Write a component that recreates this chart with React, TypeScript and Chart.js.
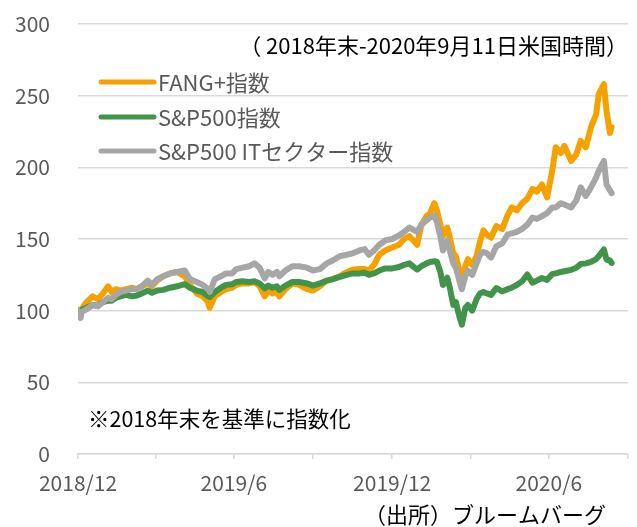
import React, { useEffect, useRef } from 'react';
import { Chart, registerables } from 'chart.js';

Chart.register(...registerables);

// ---- data (index level, 2018 year end = 100) ----
const dates = [
  '2018-12-31', '2019-01-03', '2019-01-04', '2019-01-10', '2019-01-17', '2019-01-23', '2019-01-29',
  '2019-02-04', '2019-02-08', '2019-02-13', '2019-02-18', '2019-02-25', '2019-03-04', '2019-03-09',
  '2019-03-15', '2019-03-22', '2019-03-27', '2019-04-02', '2019-04-09', '2019-04-17', '2019-04-25',
  '2019-05-04', '2019-05-10', '2019-05-18', '2019-05-25', '2019-05-31', '2019-06-02', '2019-06-08',
  '2019-06-15', '2019-06-21', '2019-06-28', '2019-07-03', '2019-07-10', '2019-07-18', '2019-07-24',
  '2019-07-30', '2019-08-05', '2019-08-09', '2019-08-14', '2019-08-19', '2019-08-22', '2019-08-29',
  '2019-09-06', '2019-09-14', '2019-09-23', '2019-09-30', '2019-10-08', '2019-10-16', '2019-10-23',
  '2019-10-31', '2019-11-08', '2019-11-15', '2019-11-23', '2019-11-29', '2019-12-04', '2019-12-10',
  '2019-12-16', '2019-12-23', '2019-12-31', '2020-01-08', '2020-01-14', '2020-01-20', '2020-01-26',
  '2020-01-29', '2020-02-03', '2020-02-09', '2020-02-13', '2020-02-18', '2020-02-21', '2020-02-25',
  '2020-02-28', '2020-03-04', '2020-03-07', '2020-03-11', '2020-03-14', '2020-03-18', '2020-03-21',
  '2020-03-25', '2020-03-28', '2020-04-02', '2020-04-07', '2020-04-11', '2020-04-15', '2020-04-19',
  '2020-04-24', '2020-04-30', '2020-05-07', '2020-05-13', '2020-05-18', '2020-05-24', '2020-05-30',
  '2020-06-05', '2020-06-11', '2020-06-16', '2020-06-22', '2020-06-28', '2020-07-04', '2020-07-08',
  '2020-07-14', '2020-07-18', '2020-07-26', '2020-08-01', '2020-08-06', '2020-08-12', '2020-08-18',
  '2020-08-24', '2020-08-27', '2020-09-02', '2020-09-05', '2020-09-09', '2020-09-11',
];

const fangPlus = [
  100, 96, 101, 106, 110, 108, 112,
  117, 113, 115, 114, 115, 116, 115,
  117, 119, 117, 121, 124, 126, 127,
  124, 118, 112, 110, 106, 102, 110,
  113, 115, 116, 118, 119, 119, 120,
  117, 110, 114, 112, 113, 110, 115,
  119, 118, 115, 114, 117, 121, 122,
  124, 127, 128.5, 129, 129, 128, 132,
  139, 142, 144, 146, 150, 152, 148,
  146, 160, 166, 168, 175, 170, 160,
  152, 158, 151, 140, 138, 128, 124,
  131, 136, 132, 138, 148, 156, 153,
  151, 159, 157, 166.5, 172, 170, 175,
  178, 185, 183, 188, 179, 197.5, 214,
  210, 215, 204.5, 209, 218.5, 214, 228,
  237, 251, 258, 239.5, 224, 228,
];

const sp500 = [
  100, 97.5, 100.5, 102, 104, 103.5, 106,
  107, 107, 109, 110, 111, 110, 110.5,
  112, 114, 112.5, 114, 114.5, 116, 117,
  118.5, 116, 114, 113, 110, 109.5, 113,
  116, 118, 118.5, 120, 120.5, 120, 120.5,
  119, 115.5, 117.5, 116, 117, 114.5, 117.5,
  120, 120, 119, 117.5, 119, 121, 122,
  123.5, 125, 126, 126, 126.5, 125, 126,
  128, 129.5, 129.5, 130.5, 132, 133, 130,
  128.7, 131, 133, 134, 134.5, 134, 127,
  118, 123, 116, 104, 106, 96, 90.2,
  102, 104, 100, 108, 112, 113, 112,
  111, 115.8, 113.5, 115, 116, 118, 120.5,
  125.2, 119.5, 121, 122.8, 121.5, 125.5, 126,
  127, 127.5, 128.5, 130, 132.5, 133, 134,
  136, 138, 142.7, 135.7, 135, 133.3,
];

const sp500IT = [
  100, 95, 99, 101, 104, 103, 106,
  109, 108, 111, 113, 114, 115, 115,
  117, 121, 118, 122, 124, 126, 127,
  128, 122, 120, 118, 115, 113, 122,
  124, 126, 126, 129, 130, 131, 133,
  130, 122.5, 127, 125, 127, 124, 128,
  131, 131, 130, 128, 129, 133, 135,
  138, 139, 140, 142, 143, 139, 142,
  146, 149, 150, 152.5, 155, 158, 156,
  155, 160, 163, 165, 166.5, 162, 152,
  142, 149, 142, 133, 130, 121, 115,
  124, 128, 125, 133, 139, 141, 140,
  137, 145, 147, 153, 154, 155, 157,
  160, 165, 164, 166, 168, 172, 172,
  175, 174, 172, 177, 186, 180, 186,
  193, 197.5, 204.5, 188, 184, 182,
];

const seriesNames = ['FANG+指数', 'S&P500指数', 'S&P500 ITセクター指数'];
const seriesColors = ['#F5A100', '#41944A', '#A6A6A6'];

const tickDates = ['2018-12-31', '2019-03-31', '2019-06-30', '2019-09-30', '2019-12-31', '2020-03-31', '2020-06-30', '2020-09-30'];
const tickLabels = ['2018/12', '', '2019/6', '', '2019/12', '', '2020/6', ''];
const yTicks = [0, 50, 100, 150, 200, 250, 300];

const titleText = '（ 2018年末-2020年9月11日米国時間）';
const noteText = '※2018年末を基準に指数化';
const sourceText = '（出所）ブルームバーグ';

const FONT = '"Noto Sans CJK JP", "Noto Sans", sans-serif';
const BASE = Date.UTC(2018, 11, 31);
const toDay = (s: string) => {
  const [y, m, d] = s.split('-').map(Number);
  return (Date.UTC(y, m - 1, d) - BASE) / 86400000;
};

const overlayPlugin = {
  id: 'overlayTexts',
  afterDraw(chart: any) {
    const ctx = chart.ctx as CanvasRenderingContext2D;
    ctx.save();
    ctx.textBaseline = 'middle';
    // title (top right)
    ctx.font = `22px ${FONT}`;
    ctx.fillStyle = '#000000';
    ctx.textAlign = 'right';
    ctx.fillText(titleText, 628, 46);
    // legend inside plot
    const rows = [82, 117, 151];
    seriesNames.forEach((name, i) => {
      ctx.strokeStyle = seriesColors[i];
      ctx.lineWidth = 5;
      ctx.lineCap = 'round';
      ctx.beginPath();
      ctx.moveTo(101, rows[i]);
      ctx.lineTo(154, rows[i]);
      ctx.stroke();
      ctx.font = `22px ${FONT}`;
      ctx.fillStyle = '#595959';
      ctx.textAlign = 'left';
      ctx.fillText(name, 158, rows[i] + 1);
    });
    // note
    ctx.font = `21.5px ${FONT}`;
    ctx.fillStyle = '#000000';
    ctx.textAlign = 'left';
    ctx.fillText(noteText, 88, 419);
    // source
    ctx.font = `22px ${FONT}`;
    ctx.textAlign = 'right';
    ctx.fillText(sourceText, 606, 515);
    ctx.restore();
  },
};

export default function App() {
  const ref = useRef<HTMLCanvasElement | null>(null);

  useEffect(() => {
    if (!ref.current) return;
    const seriesValues = [fangPlus, sp500, sp500IT];
    const orders = [2, 1, 0];
    const tickDays = tickDates.map(toDay);
    const chart = new Chart(ref.current, {
      type: 'line',
      data: {
        datasets: seriesNames.map((name, i) => ({
          label: name,
          data: dates.map((d, j) => ({ x: toDay(d), y: seriesValues[i][j] })),
          borderColor: seriesColors[i],
          backgroundColor: seriesColors[i],
          borderWidth: 6,
          pointRadius: 0,
          tension: 0,
          borderJoinStyle: 'round',
          borderCapStyle: 'round',
          fill: false,
          order: orders[i],
        })),
      },
      options: {
        animation: false,
        responsive: false,
        events: [],
        layout: { autoPadding: false, padding: { top: 24, right: 9, left: 0, bottom: 0 } },
        plugins: {
          legend: { display: false },
          tooltip: { enabled: false },
        },
        scales: {
          x: {
            type: 'linear',
            min: tickDays[0],
            max: tickDays[tickDays.length - 1],
            afterBuildTicks: (scale: any) => {
              scale.ticks = tickDays.map((v) => ({ value: v }));
            },
            afterFit: (scale: any) => {
              scale.height = 73;
            },
            ticks: {
              autoSkip: false,
              maxRotation: 0,
              padding: 0,
              color: '#595959',
              font: { family: FONT, size: 21, lineHeight: '49px' },
              callback: (_v: any, i: number) => tickLabels[i],
            },
            grid: {
              drawOnChartArea: false,
              drawTicks: true,
              tickLength: 5,
              color: '#D9D9D9',
              lineWidth: 1.5,
            },
            border: { color: '#D9D9D9', width: 1.5 },
          },
          y: {
            min: yTicks[0],
            max: yTicks[yTicks.length - 1],
            afterBuildTicks: (scale: any) => {
              scale.ticks = yTicks.map((v) => ({ value: v }));
            },
            afterFit: (scale: any) => {
              scale.width = 78;
            },
            ticks: {
              padding: 0,
              color: '#595959',
              font: { family: FONT, size: 21 },
            },
            grid: {
              color: '#D9D9D9',
              lineWidth: 1.5,
              drawTicks: true,
              tickLength: 28,
              tickColor: 'rgba(0,0,0,0)',
            },
            border: { display: false },
          },
        },
      },
      plugins: [overlayPlugin],
    } as any);
    return () => chart.destroy();
  }, []);

  return (
    <div style={{ position: 'fixed', left: 0, top: 0, width: 637, height: 527, background: '#fff' }}>
      <canvas ref={ref} width={637} height={527} />
    </div>
  );
}
